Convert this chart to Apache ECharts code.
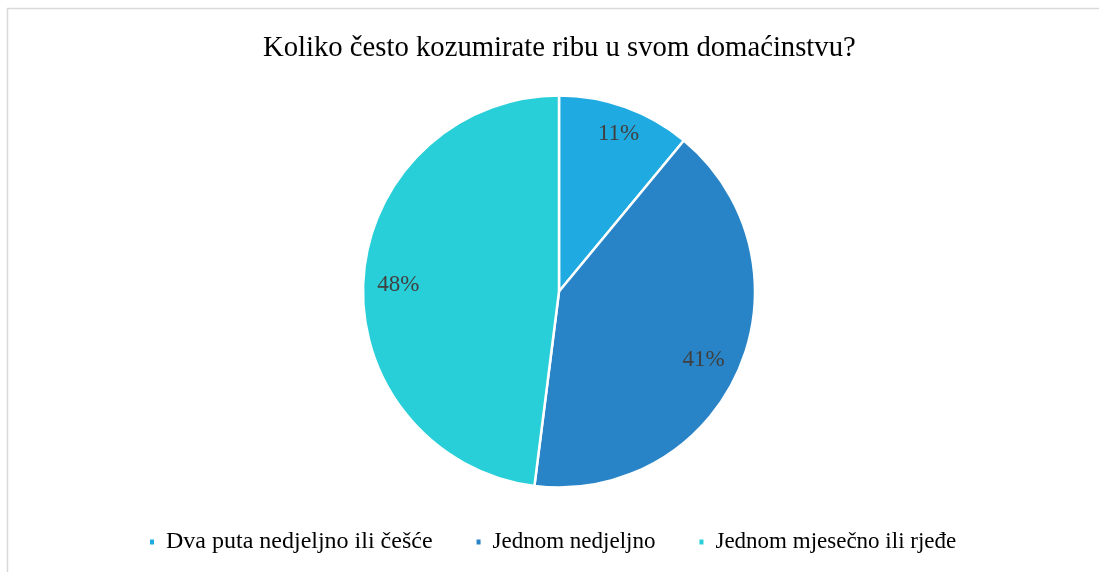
<!DOCTYPE html>
<html>
<head>
<meta charset="utf-8">
<script src="https://cdn.jsdelivr.net/npm/echarts@6/dist/echarts.min.js"></script>
<style>
  html, body { margin: 0; padding: 0; background: #fff; }
  #chart { width: 1099px; height: 572px; }
</style>
</head>
<body>
<div id="chart"></div>
<script>
// Survey: how often the household eats fish
const titleText = 'Koliko često kozumirate ribu u svom domaćinstvu?';
const categories = ['Dva puta nedjeljno ili češće', 'Jednom nedjeljno', 'Jednom mjesečno ili rjeđe'];
const shares = [11, 41, 48];
const colors = ['#1FABE1', '#2884C6', '#29CFD8'];

const serif = '"Liberation Serif", "Times New Roman", serif';
const cx = 559, cy = 291.5, R = 196;

const sliceData = categories.map((name, i) => ({
  name: name,
  value: shares[i],
  itemStyle: { color: colors[i] }
}));

// Small nudges so each percentage sits where the slice has room
const labelOffsets = [[4, -3], [-6, 3], [3, 4]];

// Transparent ring used only to place the percentage labels near the rim
const labelData = categories.map((name, i) => ({
  name: name,
  value: shares[i],
  label: { offset: labelOffsets[i] }
}));

const legendData = categories.map((name, i) => (
  i === 0 ? { name: name, textStyle: { fontSize: 24 } } : { name: name }
));

const chart = echarts.init(document.getElementById('chart'), null, { renderer: 'canvas' });
chart.setOption({
  backgroundColor: '#ffffff',
  animation: false,
  title: {
    text: titleText,
    left: 258,
    top: 29,
    textStyle: { fontFamily: serif, fontSize: 28.7, fontWeight: 'normal', color: '#000000' }
  },
  legend: {
    bottom: 13,
    left: 143,
    icon: 'rect',
    itemWidth: 6,
    itemHeight: 7,
    itemGap: 42,
    data: legendData,
    textStyle: { fontFamily: serif, fontSize: 23, color: '#000000', padding: [0, 0, 0, 6] }
  },
  graphic: [{
    type: 'rect',
    shape: { x: 7.5, y: 8.5, width: 1200, height: 1000 },
    style: { fill: 'none', stroke: '#d9d9d9', lineWidth: 1.5 },
    silent: true,
    z: -1
  }],
  series: [{
    type: 'pie',
    center: [cx, cy],
    radius: [0, R],
    startAngle: 90,
    clockwise: true,
    label: { show: false },
    labelLine: { show: false },
    itemStyle: { borderColor: '#ffffff', borderWidth: 2.5 },
    emphasis: { disabled: true },
    data: sliceData
  }, {
    type: 'pie',
    center: [cx, cy],
    radius: [126, R],
    startAngle: 90,
    clockwise: true,
    silent: true,
    itemStyle: { color: 'rgba(0,0,0,0)' },
    label: {
      show: true,
      position: 'inside',
      formatter: '{c}%',
      fontFamily: serif,
      fontSize: 23,
      color: '#404040'
    },
    labelLine: { show: false },
    emphasis: { disabled: true },
    data: labelData
  }]
});
</script>
</body>
</html>
